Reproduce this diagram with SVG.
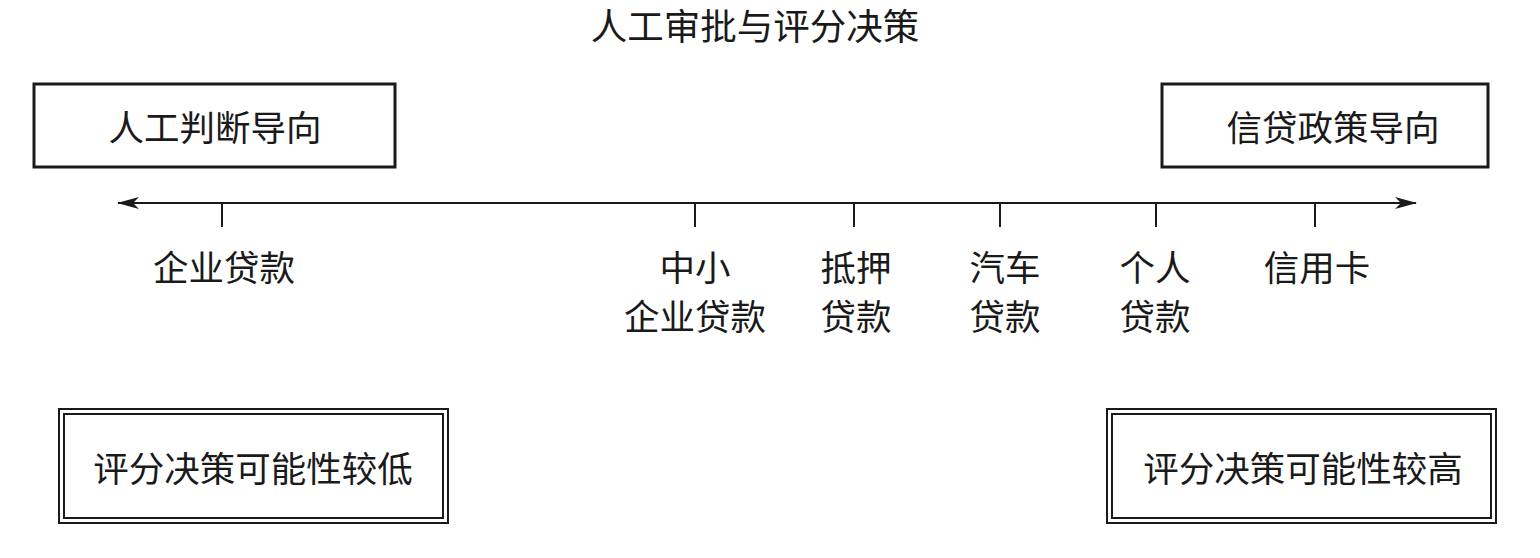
<svg xmlns="http://www.w3.org/2000/svg" width="1540" height="558" viewBox="0 0 1540 558">
<style>
text{font-family:"Noto Sans CJK SC","Noto Sans",sans-serif;font-size:35.5px;fill:#1a1a1a;text-anchor:middle;dominant-baseline:central}
.box{fill:#fff;stroke:#1a1a1a;stroke-width:3}
.dbl{fill:none;stroke:#1a1a1a;stroke-width:2}
.ax{stroke:#1a1a1a;stroke-width:2;fill:none}
</style>
<defs>
<marker id="ah" viewBox="0 0 22 12" refX="21" refY="6" markerWidth="22" markerHeight="12" markerUnits="userSpaceOnUse" orient="auto-start-reverse">
<path d="M0,0 L22,6 L0,12 L6,6 Z" fill="#1a1a1a"/>
</marker>
</defs>
<text id="title" x="755" y="24" style="font-size:36.5px">人工审批与评分决策</text>
<g id="manual">
<rect class="box" x="34" y="84" width="361" height="83"/>
<text x="215" y="125">人工判断导向</text>
</g>
<g id="policy">
<rect class="box" x="1162" y="84" width="326" height="83"/>
<text x="1333" y="125">信贷政策导向</text>
</g>
<g id="connectors">
<line class="ax" x1="118" y1="203" x2="1416" y2="203" marker-start="url(#ah)" marker-end="url(#ah)"/>
<line class="ax" x1="222" y1="203" x2="222" y2="227"/>
<line class="ax" x1="695" y1="203" x2="695" y2="227"/>
<line class="ax" x1="854" y1="203" x2="854" y2="227"/>
<line class="ax" x1="1000" y1="203" x2="1000" y2="227"/>
<line class="ax" x1="1156" y1="203" x2="1156" y2="227"/>
<line class="ax" x1="1315" y1="203" x2="1315" y2="227"/>
</g>
<g id="corp"><text x="224" y="265">企业贷款</text></g>
<g id="sme"><text x="695" y="265">中小</text><text x="695" y="314">企业贷款</text></g>
<g id="mortgage"><text x="856" y="265">抵押</text><text x="856" y="314">贷款</text></g>
<g id="auto"><text x="1005" y="265">汽车</text><text x="1005" y="314">贷款</text></g>
<g id="personal"><text x="1155" y="265">个人</text><text x="1155" y="314">贷款</text></g>
<g id="card"><text x="1317" y="265">信用卡</text></g>
<g id="low">
<rect class="dbl" x="59" y="409" width="389" height="114"/>
<rect class="dbl" x="64" y="414" width="379" height="104"/>
<text x="253" y="466">评分决策可能性较低</text>
</g>
<g id="high">
<rect class="dbl" x="1107" y="409" width="389" height="114"/>
<rect class="dbl" x="1112" y="414" width="379" height="104"/>
<text x="1303" y="466">评分决策可能性较高</text>
</g>
</svg>
